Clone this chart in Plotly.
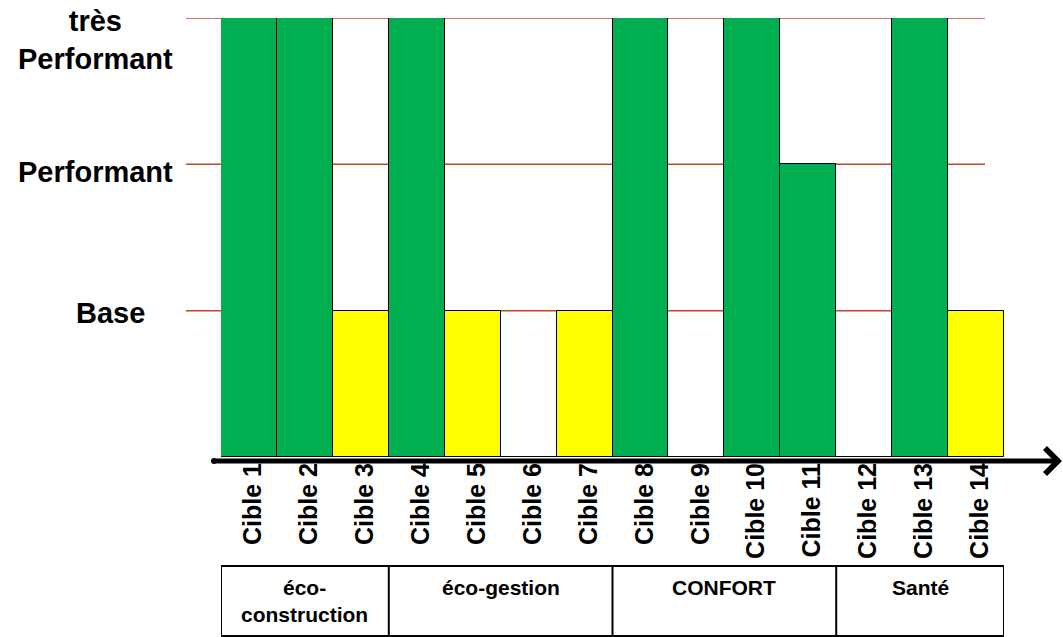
import plotly.graph_objects as go

# Niveaux atteints par cible : 0 = non traité, 1 = Base, 2 = Performant, 3 = très Performant
cibles = [f"Cible {i}" for i in range(1, 15)]
niveaux = [3, 3, 1, 3, 1, 0, 1, 3, 0, 3, 2, 0, 3, 1]

# Libellés des niveaux (axe vertical)
niveau_vals = [3, 2, 1]
niveau_labels = ["très<br>Performant", "Performant", "Base"]

# Familles de cibles : (libellé, première cible, dernière cible)
familles = [
    ("éco-<br>construction", 1, 3),
    ("éco-gestion", 4, 7),
    ("CONFORT", 8, 11),
    ("Santé", 12, 14),
]

VERT = "#00B050"
JAUNE = "#FFFF00"
GRILLE = "#C0462A"
FONT = "Liberation Sans"

W, H = 1063, 637
ML, MR, MT, MB = 221, 59, 18, 180
PW, PH = W - ML - MR, H - MT - MB


def px_x(px):
    return (px - ML) / PW


def px_y(py):
    return (H - MB - py) / PH


couleurs = [JAUNE if n == 1 else VERT for n in niveaux]

fig = go.Figure(
    go.Bar(
        x=list(range(len(cibles))),
        y=niveaux,
        marker=dict(color=couleurs, line=dict(color="black", width=1)),
        hoverinfo="skip",
    )
)

shapes = []
# Lignes de niveau
for v in niveau_vals:
    shapes.append(dict(type="line", xref="paper", yref="y",
                       x0=px_x(186), x1=px_x(985), y0=v, y1=v,
                       line=dict(color=GRILLE, width=1.5), layer="below"))

# Cadre des familles
y_top, y_bot = px_y(566), px_y(636)
shapes.append(dict(type="rect", xref="x", yref="paper",
                   x0=-0.5, x1=len(cibles) - 0.5, y0=y_bot, y1=y_top,
                   line=dict(color="black", width=2)))
for _, debut, fin in familles[:-1]:
    shapes.append(dict(type="line", xref="x", yref="paper",
                       x0=fin - 0.5, x1=fin - 0.5, y0=y_bot, y1=y_top,
                       line=dict(color="black", width=2)))

# Point d'origine de l'axe
shapes.append(dict(type="circle", xref="paper", yref="paper",
                   xsizemode="pixel", ysizemode="pixel",
                   xanchor=px_x(214), yanchor=px_y(461),
                   x0=-3, x1=3, y0=-3, y1=3,
                   fillcolor="black", line=dict(color="black", width=0)))

annotations = []
# Axe horizontal fléché
annotations.append(dict(xref="paper", yref="paper", x=px_x(1062), y=px_y(461),
                        ax=-(1062 - 214), ay=0, text="", showarrow=True,
                        arrowhead=4, arrowsize=1, arrowwidth=5,
                        arrowcolor="black"))

# Libellés des niveaux
niveau_pos = [(95, 40), (95, 172), (111, 313)]
for lab, (cx, cy) in zip(niveau_labels, niveau_pos):
    annotations.append(dict(xref="paper", yref="paper", x=px_x(cx), y=px_y(cy),
                            text=lab, showarrow=False, xanchor="center",
                            yanchor="middle", align="center",
                            font=dict(family=FONT, size=29, color="black",
                                      weight="bold")))

# Libellés des familles
for lab, debut, fin in familles:
    annotations.append(dict(xref="x", yref="paper",
                            x=(debut - 1 + fin - 1) / 2, y=px_y(574),
                            text=lab, showarrow=False, xanchor="center",
                            yanchor="top", align="center",
                            font=dict(family=FONT, size=21, color="black",
                                      weight="bold")))

fig.update_layout(
    width=W, height=H,
    margin=dict(l=ML, r=MR, t=MT, b=MB, pad=0),
    paper_bgcolor="white", plot_bgcolor="white",
    bargap=0, showlegend=False,
    xaxis=dict(tickmode="array", tickvals=list(range(len(cibles))),
               ticktext=cibles, tickangle=-90, range=[-0.5, len(cibles) - 0.5],
               showgrid=False, zeroline=False, showline=False, ticks="",
               ticklabelshift=4,
               tickfont=dict(family=FONT, size=25, color="black", weight="bold")),
    yaxis=dict(range=[0, 3], showgrid=False, zeroline=False, showline=False,
               showticklabels=False, ticks=""),
    shapes=shapes,
    annotations=annotations,
)

fig.write_html("out.html")
